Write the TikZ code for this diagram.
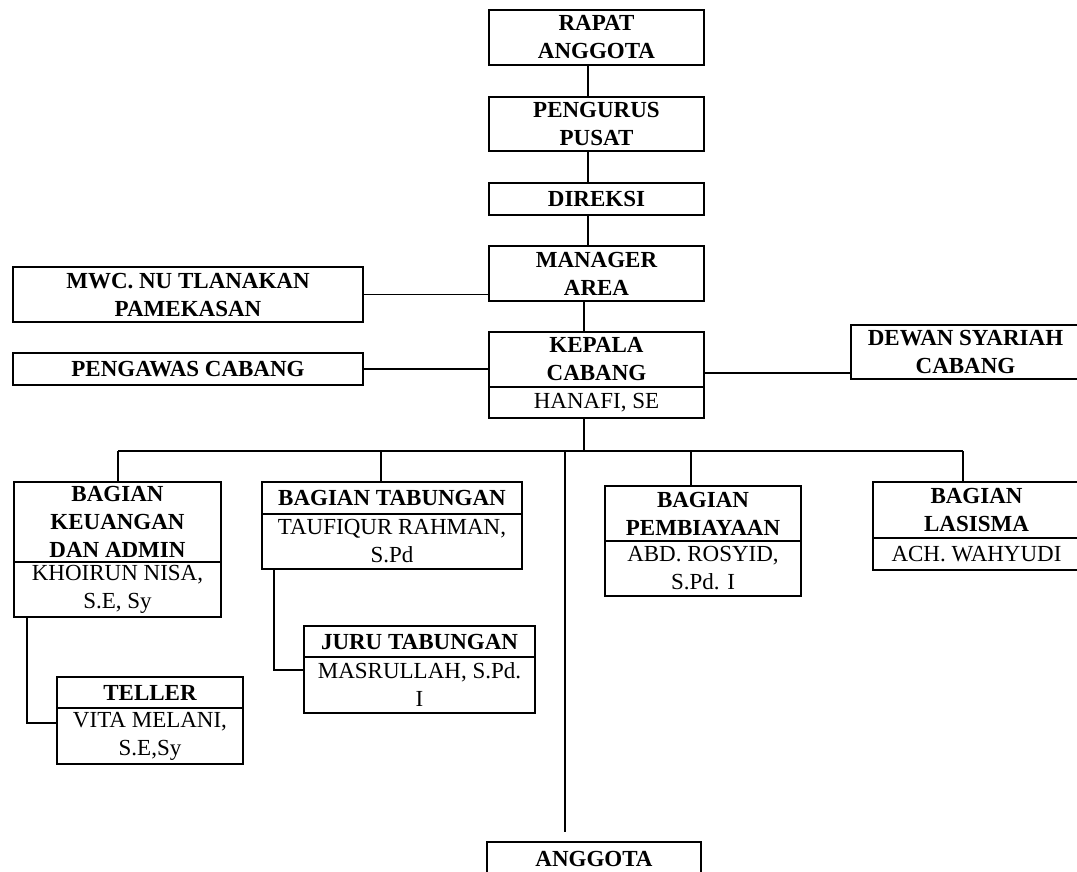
\documentclass[tikz,border=0pt]{standalone}
\usepackage{fontspec}
\setmainfont{Liberation Serif}
\begin{document}
\begin{tikzpicture}[x=1pt,y=-1pt,
  bx/.style={draw, line width=1.3pt, inner sep=0pt, align=center, font=\fontsize{23}{28}\selectfont\bfseries},
  nm/.style={bx, font=\fontsize{23}{28}\selectfont},
  ln/.style={line width=1.3pt}]
\useasboundingbox (0,0) rectangle (1077,872);
% central chain
\node[bx, minimum width=215pt, minimum height=55pt] (rapat) at (596.5,37.5) {RAPAT\\ANGGOTA};
\node[bx, minimum width=215pt, minimum height=54pt] (pengurus) at (596.5,124) {PENGURUS\\PUSAT};
\node[bx, minimum width=215pt, minimum height=32pt] (direksi) at (596.5,199) {DIREKSI};
\node[bx, minimum width=215pt, minimum height=55pt] (manager) at (596.5,273.5) {MANAGER\\AREA};
\node[bx, minimum width=215pt, minimum height=55pt] (kepalaT) at (596.5,359.5) {KEPALA\\CABANG};
\node[nm, minimum width=215pt, minimum height=31pt] (kepalaB) at (596.5,402.5) {HANAFI, SE};
% side boxes
\node[bx, minimum width=350pt, minimum height=55pt] (mwc) at (188,294.5) {MWC. NU TLANAKAN\\PAMEKASAN};
\node[bx, minimum width=350pt, minimum height=32pt] (pengawas) at (188,369) {PENGAWAS CABANG};
\node[bx, minimum width=229pt, minimum height=54pt] (dewan) at (965.5,352) {DEWAN SYARIAH\\CABANG};
% departments
\node[bx, minimum width=207pt, minimum height=80pt] (keuT) at (117.5,522) {BAGIAN\\KEUANGAN\\DAN ADMIN};
\node[nm, minimum width=207pt, minimum height=55pt] (keuB) at (117.5,589.5) {KHOIRUN NISA,\\S.E, Sy};
\node[bx, minimum width=186pt, minimum height=31pt] (tellerT) at (150,692.5) {TELLER};
\node[nm, minimum width=186pt, minimum height=56pt] (tellerB) at (150,736) {VITA MELANI,\\S.E,Sy};
\node[bx, minimum width=260pt, minimum height=32pt] (tabT) at (392,498) {BAGIAN TABUNGAN};
\node[nm, minimum width=260pt, minimum height=55pt] (tabB) at (392,541.5) {TAUFIQUR RAHMAN,\\S.Pd};
\node[bx, minimum width=231pt, minimum height=31pt] (juruT) at (419.5,641.5) {JURU TABUNGAN};
\node[nm, minimum width=231pt, minimum height=56pt] (juruB) at (419.5,685) {MASRULLAH, S.Pd.\\I};
\node[bx, minimum width=196pt, minimum height=55pt] (pembT) at (703,513.5) {BAGIAN\\PEMBIAYAAN};
\node[nm, minimum width=196pt, minimum height=55pt] (pembB) at (703,568.5) {ABD. ROSYID,\\S.Pd. I};
\node[bx, minimum width=207pt, minimum height=56pt] (lasT) at (976.5,510) {BAGIAN\\LASISMA};
\node[nm, minimum width=207pt, minimum height=32pt] (lasB) at (976.5,554) {ACH. WAHYUDI};
\node[bx, minimum width=214pt, minimum height=33pt] (anggota) at (594,858.5) {ANGGOTA};
% helper coordinates
\coordinate (cx) at (588,0);
\coordinate (b1) at (118,451);
\coordinate (b2) at (381,451);
\coordinate (b3) at (565,451);
\coordinate (bk) at (584,451);
\coordinate (b4) at (691,451);
\coordinate (b5) at (963,451);
\coordinate (dw) at (851,373);
\coordinate (c1) at (274,670);
\coordinate (c2) at (27,723);
% connectors
\draw[ln] (rapat.south -| cx) -- (pengurus.north -| cx);
\draw[ln] (pengurus.south -| cx) -- (direksi.north -| cx);
\draw[ln] (direksi.south -| cx) -- (manager.north -| cx);
\draw[ln] (manager.south -| bk) -- (kepalaT.north -| bk);
\draw[ln] (mwc.east) -- (mwc.east -| manager.west);
\draw[ln] (pengawas.east) -- (pengawas.east -| kepalaT.west);
\draw[ln] (dw -| kepalaT.east) -- (dw);
\draw[ln] (kepalaB.south -| bk) -- (bk);
\draw[ln] (b1) -- (b5);
\draw[ln] (b1) -- (keuT.north -| b1);
\draw[ln] (b2) -- (tabT.north -| b2);
\draw[ln] (b4) -- (pembT.north -| b4);
\draw[ln] (b5) -- (lasT.north -| b5);
\draw[ln, shorten >=9pt] (b3) -- (anggota.north -| b3);
\draw[ln] (tabB.south -| c1) -- (c1) -- (c1 -| juruB.west);
\draw[ln] (keuB.south -| c2) -- (c2) -- (c2 -| tellerB.west);
\end{tikzpicture}
\end{document}
